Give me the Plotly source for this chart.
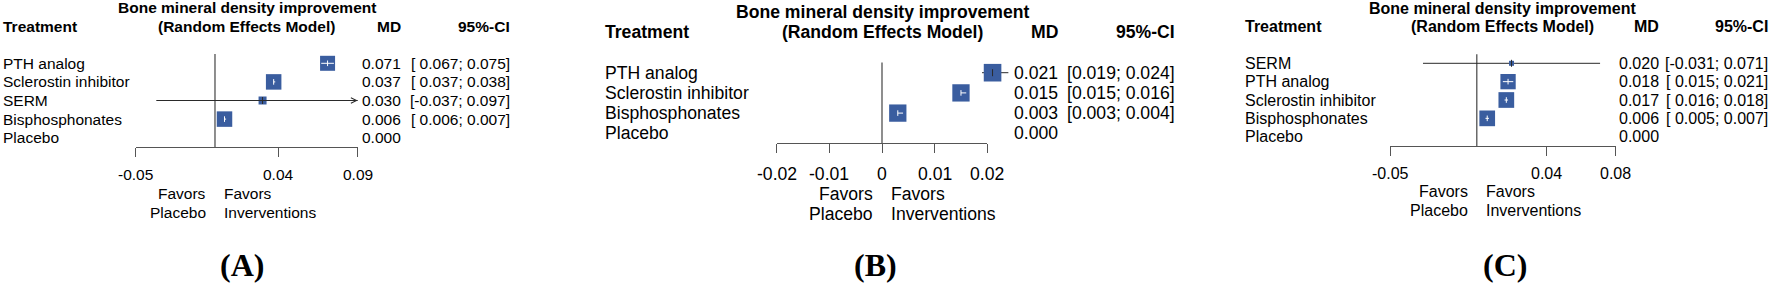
import plotly.graph_objects as go

W, H = 1772, 285

# ---------------- data ----------------
a_treat = ["PTH analog", "Sclerostin inhibitor", "SERM", "Bisphosphonates", "Placebo"]
a_md = [0.071, 0.037, 0.030, 0.006, 0.000]
a_lo = [0.067, 0.037, -0.037, 0.006, None]
a_hi = [0.075, 0.038, 0.097, 0.007, None]
a_ticks = [-0.05, 0.04, 0.09]
a_ticktext = ["-0.05", "0.04", "0.09"]

b_treat = ["PTH analog", "Sclerostin inhibitor", "Bisphosphonates", "Placebo"]
b_md = [0.021, 0.015, 0.003, 0.000]
b_lo = [0.019, 0.015, 0.003, None]
b_hi = [0.024, 0.016, 0.004, None]
b_ticks = [-0.02, -0.01, 0, 0.01, 0.02]
b_ticktext = ["-0.02", "-0.01", "0", "0.01", "0.02"]

c_treat = ["SERM", "PTH analog", "Sclerostin inhibitor", "Bisphosphonates", "Placebo"]
c_md = [0.020, 0.018, 0.017, 0.006, 0.000]
c_lo = [-0.031, 0.015, 0.016, 0.005, None]
c_hi = [0.071, 0.021, 0.018, 0.007, None]
c_ticks = [-0.05, 0.04, 0.08]
c_ticktext = ["-0.05", "0.04", "0.08"]

header_1 = "Bone mineral density improvement"
header_2 = "(Random Effects Model)"
col_treat = "Treatment"
col_md = "MD"
col_ci = "95%-CI"
label_left = ["Favors", "Placebo"]
label_right = ["Favors", "Inverventions"]
panel_tags = ["(A)", "(B)", "(C)"]

panels = [
    dict(treat=a_treat, md=a_md, lo=a_lo, hi=a_hi, ticks=a_ticks, ticktext=a_ticktext),
    dict(treat=b_treat, md=b_md, lo=b_lo, hi=b_hi, ticks=b_ticks, ticktext=b_ticktext),
    dict(treat=c_treat, md=c_md, lo=c_lo, hi=c_hi, ticks=c_ticks, ticktext=c_ticktext),
]

# ---------------- style / layout (pixels) ----------------
styles = [
    dict(dom=(135.7, 357.7), row0=63.3, sp=18.6, font=15.5, label_x=1, md_right=403.3,
         ci_right=511.7, tag_x=242, clip=0.09, square=[15, 15.5, 8, 15.5]),
    dict(dom=(776.7, 987.3), row0=72.7, sp=20.2, font=17.6, label_x=603, md_right=1059.5,
         ci_right=1176.7, tag_x=875, clip=None, square=[17.6, 17.3, 17.3]),
    dict(dom=(1390.0, 1615.7), row0=63.3, sp=18.35, font=16.0, label_x=1243, md_right=1661,
         ci_right=1770, tag_x=1504.5, clip=0.08, square=[5, 15.3, 15.7, 15.7]),
]

SANS = "Liberation Sans, Arial, Helvetica, sans-serif"
SERIF = "Liberation Serif, Times New Roman, serif"
SQUARE_COLOR = "#3a5d9f"
LINE_COLOR = "#2a2a2a"
AXIS_COLOR = "#555555"
PAD_PX = 60

fig = go.Figure()
annotations = []


def fmt_ci(lo, hi, pad):
    s_lo = f"{lo:.3f}"
    if pad and lo >= 0:
        s_lo = " " + s_lo
    return f"[{s_lo}; {hi:.3f}]"


for k, (d, st) in enumerate(zip(panels, styles), start=1):
    iv, iw = 2 * k - 1, 2 * k
    xv = "x" if iv == 1 else f"x{iv}"   # visible axis (line + ticks)
    xw = f"x{iw}"                        # invisible wide axis for marks
    ysfx = "" if k == 1 else str(k)
    ya = "y" + ysfx
    n = len(d["treat"])
    x0, x1 = st["dom"]
    rng = [d["ticks"][0], d["ticks"][-1]]
    ppu = (x1 - x0) / (rng[1] - rng[0])
    axis_px = st["row0"] + (n - 0.5) * st["sp"]
    fs = st["font"]

    fig.update_layout(**{
        ("xaxis" if iv == 1 else f"xaxis{iv}"): dict(
            domain=[x0 / W, x1 / W], range=rng, anchor="free", position=1 - axis_px / H,
            tickvals=d["ticks"], showticklabels=False,
            ticks="outside", ticklen=9, tickwidth=1, tickcolor=AXIS_COLOR,
            showline=True, linecolor=AXIS_COLOR, linewidth=1,
            showgrid=False, zeroline=False, fixedrange=True),
        f"xaxis{iw}": dict(
            domain=[(x0 - PAD_PX) / W, (x1 + PAD_PX) / W],
            range=[rng[0] - PAD_PX / ppu, rng[1] + PAD_PX / ppu], anchor=ya,
            visible=False, fixedrange=True),
        "yaxis" + ysfx: dict(domain=[0, 1], range=[(H - st["row0"]) / st["sp"], -st["row0"] / st["sp"]],
                             anchor=xv, visible=False, fixedrange=True),
    })

    # reference (zero) line
    fig.add_trace(go.Scatter(x=[0, 0], y=[-0.5, n - 0.5], mode="lines", xaxis=xv, yaxis=ya,
                             line=dict(color="#444444", width=1.2), hoverinfo="skip",
                             showlegend=False, cliponaxis=False))

    outer_x, outer_y, inner_x, inner_y = [], [], [], []
    sq_x, sq_y, sq_s = [], [], []
    tk_out_x, tk_out_y, tk_in_x, tk_in_y = [], [], [], []
    for i in range(n):
        lo, hi, md = d["lo"][i], d["hi"][i], d["md"][i]
        if lo is None:
            continue
        half = st["square"][i] / 2 / ppu
        inside = lo >= md - half and hi <= md + half
        clip = st["clip"]
        hi_c = min(hi, clip) if clip is not None else hi
        if inside:
            inner_x += [lo, hi_c, None]
            inner_y += [i, i, None]
            tk_in_x.append(md)
            tk_in_y.append(i)
        else:
            outer_x += [lo, hi_c, None]
            outer_y += [i, i, None]
            tk_out_x.append(md)
            tk_out_y.append(i)
            if clip is not None and hi > clip:
                annotations.append(dict(x=clip, y=i, xref=xw, yref=ya, ax=lo, ay=i,
                                        axref=xw, ayref=ya, text="", showarrow=True,
                                        arrowhead=5, arrowsize=1.1, arrowwidth=1,
                                        arrowcolor=LINE_COLOR, standoff=0, startstandoff=0))
        sq_x.append(md)
        sq_y.append(i)
        sq_s.append(st["square"][i])

    common = dict(xaxis=xw, yaxis=ya, hoverinfo="skip", showlegend=False, cliponaxis=False)
    fig.add_trace(go.Scatter(x=outer_x, y=outer_y, mode="lines",
                             line=dict(color=LINE_COLOR, width=1), **common))
    fig.add_trace(go.Scatter(x=sq_x, y=sq_y, mode="markers",
                             marker=dict(symbol="square", size=sq_s, color=SQUARE_COLOR,
                                         opacity=1, line=dict(width=0)), **common))
    fig.add_trace(go.Scatter(x=inner_x, y=inner_y, mode="lines",
                             line=dict(color="white", width=1), **common))
    fig.add_trace(go.Scatter(x=tk_in_x, y=tk_in_y, mode="markers",
                             marker=dict(symbol="line-ns", size=4,
                                         line=dict(color="white", width=1)), **common))
    fig.add_trace(go.Scatter(x=tk_out_x, y=tk_out_y, mode="markers",
                             marker=dict(symbol="line-ns", size=5,
                                         line=dict(color=LINE_COLOR, width=1)), **common))

    def txt(text, x, y, xref, xanchor, bold=False, size=fs, family=SANS, xshift=0):
        annotations.append(dict(text=text, x=x, y=y, xref=xref, yref=ya, xanchor=xanchor,
                                yanchor="middle", showarrow=False, xshift=xshift,
                                font=dict(family=family, size=size, color="black",
                                          weight="bold" if bold else "normal")))

    # headers
    txt(header_1, 0.5, -3, xv + " domain", "center", bold=True)
    txt(header_2, 0.5, -2, xv + " domain", "center", bold=True)
    txt(col_treat, st["label_x"] / W, -2, "paper", "left", bold=True)
    txt(col_md, st["md_right"] / W, -2, "paper", "right", bold=True)
    txt(col_ci, st["ci_right"] / W, -2, "paper", "right", bold=True)

    pad = any(v is not None and v < 0 for v in d["lo"])
    for i in range(n):
        txt(d["treat"][i], st["label_x"] / W, i, "paper", "left")
        txt(f"{d['md'][i]:.3f}", st["md_right"] / W, i, "paper", "right")
        if d["lo"][i] is not None:
            txt(fmt_ci(d["lo"][i], d["hi"][i], pad), st["ci_right"] / W, i, "paper", "right")

    # tick labels
    for tv, tt in zip(d["ticks"], d["ticktext"]):
        txt(tt, tv, n + 1, xv, "center")

    # favours labels
    for j in range(2):
        txt(label_left[j], 0, n + 2 + j, xv, "right", xshift=-7)
        txt(label_right[j], 0, n + 2 + j, xv, "left", xshift=7)

    # panel tag
    annotations.append(dict(text=panel_tags[k - 1], x=st["tag_x"] / W, y=(H - 265) / H,
                            xref="paper", yref="paper", xanchor="center", yanchor="middle",
                            showarrow=False,
                            font=dict(family=SERIF, size=32, color="black", weight="bold")))

fig.update_layout(width=W, height=H, margin=dict(l=0, r=0, t=0, b=0),
                  paper_bgcolor="white", plot_bgcolor="rgba(0,0,0,0)",
                  annotations=annotations, showlegend=False, hovermode=False)

fig.write_html("out.html", config={"displayModeBar": False, "staticPlot": True},
               post_script="document.body.style.margin='0';document.body.style.overflow='hidden';")
